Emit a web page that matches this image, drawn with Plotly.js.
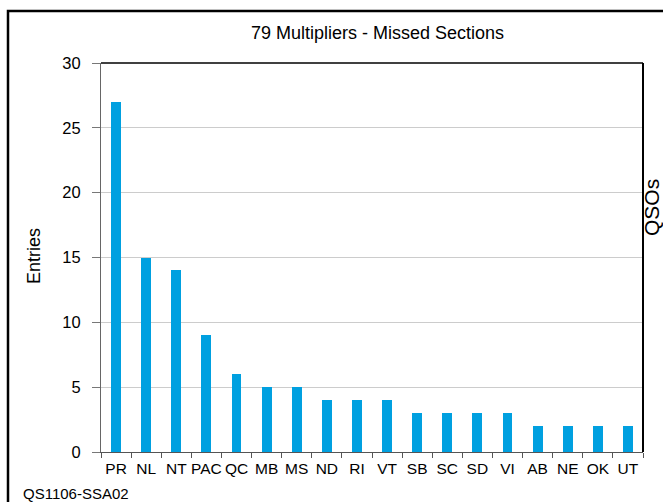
<!DOCTYPE html>
<html>
<head>
<meta charset="utf-8">
<script src="https://cdn.plot.ly/plotly-3.0.1.min.js"></script>
<style>html,body{margin:0;padding:0;background:#fff;}#chart{width:663px;height:502px;}</style>
</head>
<body>
<div id="chart"></div>
<script>
const sections = ["PR","NL","NT","PAC","QC","MB","MS","ND","RI","VT","SB","SC","SD","VI","AB","NE","OK","UT"];
const entries = [27,15,14,9,6,5,5,4,4,4,3,3,3,3,2,2,2,2];
const yTicks = [0,5,10,15,20,25,30];

const W = 663, H = 502, L = 101, R = 20, T = 63, B = 50;
const pw = W - L - R, ph = H - T - B;
const px = v => (v - L) / pw;
const py = v => (H - B - v) / ph;
const font = "Liberation Sans, Arial, sans-serif";

const trace = {
  type: "bar",
  x: sections,
  y: entries,
  width: 0.33,
  marker: {color: "#00a0e0", line: {width: 0}},
  hoverinfo: "x+y"
};

const layout = {
  width: W, height: H,
  margin: {l: L, r: R, t: T, b: B, pad: 0},
  paper_bgcolor: "#fff", plot_bgcolor: "#fff",
  font: {family: font, color: "#000"},
  showlegend: false,
  bargap: 0,
  xaxis: {
    type: "category",
    tickangle: 0,
    showline: true, linecolor: "#555", linewidth: 1,
    ticks: "outside", tickson: "boundaries", ticklen: 5, tickcolor: "#555",
    tickfont: {size: 15.5, family: font, color: "#000"},
    ticklabelstandoff: 2,
    showgrid: false, zeroline: false, fixedrange: true
  },
  yaxis: {
    range: [0, 30],
    tickvals: yTicks,
    showline: true, linecolor: "#666", linewidth: 1,
    ticks: "outside", ticklen: 8, tickcolor: "#777",
    tickfont: {size: 16.5, family: font, color: "#000"},
    ticklabelstandoff: 8,
    showgrid: true, gridcolor: "#cccccc", gridwidth: 1,
    zeroline: false, fixedrange: true
  },
  shapes: [
    {type: "line", xref: "paper", yref: "paper", x0: 0, x1: 1, y0: 1, y1: 1, line: {color: "#000", width: 1.5}},
    {type: "line", xref: "paper", yref: "paper", x0: 1, x1: 1, y0: 0, y1: 1, line: {color: "#000", width: 2}},
    {type: "rect", xref: "paper", yref: "paper", x0: px(8), x1: px(672), y0: py(11), y1: py(512), line: {color: "#000", width: 2.5}, fillcolor: "rgba(0,0,0,0)"}
  ],
  annotations: [
    {text: "79 Multipliers - Missed Sections", xref: "paper", yref: "paper", x: px(377), y: py(33), xanchor: "center", yanchor: "middle", showarrow: false, font: {size: 18, family: font}},
    {text: "Entries", xref: "paper", yref: "paper", x: px(34), y: py(256), xanchor: "center", yanchor: "middle", textangle: -90, showarrow: false, font: {size: 18, family: font}},
    {text: "QSOs", xref: "paper", yref: "paper", x: px(651), y: py(208), xanchor: "center", yanchor: "middle", textangle: -90, showarrow: false, font: {size: 21, family: font}},
    {text: "QS1106-SSA02", xref: "paper", yref: "paper", x: px(21), y: py(493), xanchor: "left", yanchor: "middle", showarrow: false, font: {size: 15, family: font}}
  ]
};

Plotly.newPlot("chart", [trace], layout, {staticPlot: true, displayModeBar: false});
</script>
</body>
</html>
